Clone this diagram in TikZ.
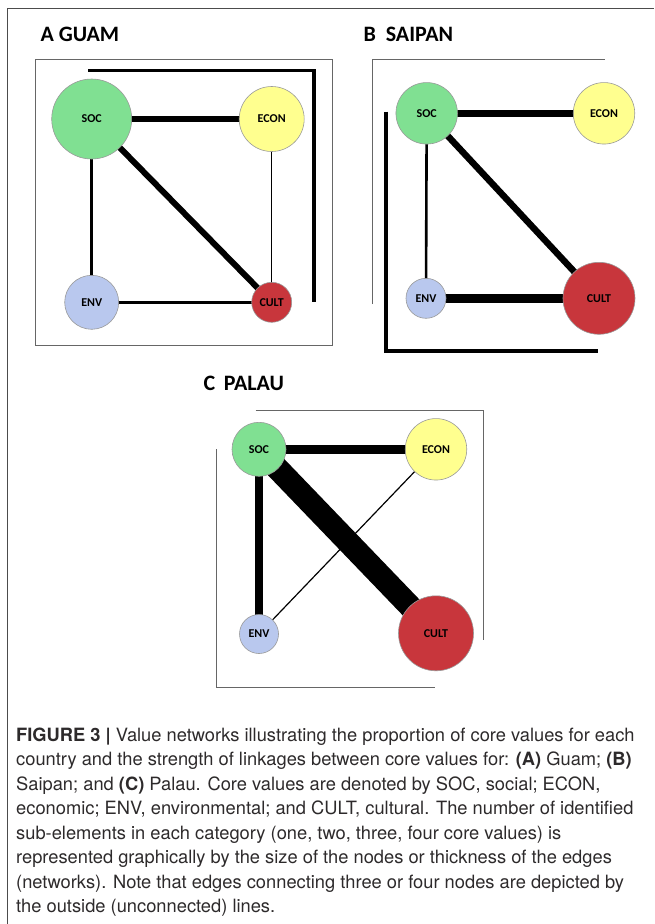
\documentclass[tikz,border=0pt]{standalone}
\usepackage{fontspec}
\setmainfont{TeX Gyre Heros}
\newfontfamily\calfont{Carlito}
\usetikzlibrary{backgrounds}
\definecolor{socgreen}{RGB}{128,224,146}
\definecolor{econyellow}{RGB}{255,255,143}
\definecolor{envblue}{RGB}{185,200,238}
\definecolor{cultred}{RGB}{200,54,60}
\definecolor{captiongray}{RGB}{45,42,43}
\begin{document}
\begin{tikzpicture}[x=1pt,y=-1pt,
    value/.style={circle,draw=black!40,line width=0.6pt,inner sep=0pt,
      font=\calfont\bfseries\fontsize{12}{12}\selectfont},
    panel/.style={anchor=west,font=\calfont\bfseries\fontsize{22}{24}\selectfont},
    frame/.style={draw=black!60,line width=1pt},
    outer/.style={draw=black,line width=#1}]
  \useasboundingbox (0,0) rectangle (654,924);
  \draw[draw=black!70,line width=1pt] (7.3,924) -- (7.3,8.3) -- (654,8.3);

  % A  Guam
  \node[panel] (titleA) at (37,34) {A GUAM};
  \draw[frame] (35,59) rectangle (332,345);
  \draw[outer=3.2] (88,70.7) -- (314,70.7) -- (314,302);
  \node[value,fill=socgreen,minimum size=80] (socA) at (91.7,119) {SOC};
  \node[value,fill=econyellow,minimum size=65] (econA) at (271.7,119) {ECON};
  \node[value,fill=envblue,minimum size=54] (envA) at (91.7,302.3) {ENV};
  \node[value,fill=cultred,minimum size=40] (cultA) at (271.7,302.3) {CULT};
  \begin{pgfonlayer}{background}
    \draw[line width=6] (socA.center) -- (econA.center);
    \draw[line width=6] (socA.center) -- (cultA.center);
    \draw[line width=2.6] (socA.center) -- (envA.center);
    \draw[line width=2.6] (envA.center) -- (cultA.center);
    \draw[line width=0.8] (econA.center) -- (cultA.center);
  \end{pgfonlayer}

  % B  Saipan
  \node[panel] (titleB) at (360,34) {B\ \ SAIPAN};
  \draw[frame] (372.7,304) -- (372.7,59.3) -- (605,59.3);
  \draw[outer=3.2] (386,111.7) -- (386,351) -- (598.3,351);
  \node[value,fill=socgreen,minimum size=61.5] (socB) at (426.7,113.3) {SOC};
  \node[value,fill=econyellow,minimum size=61.5] (econB) at (604,113.3) {ECON};
  \node[value,fill=envblue,minimum size=40] (envB) at (426,298.3) {ENV};
  \node[value,fill=cultred,minimum size=72] (cultB) at (599,298.3) {CULT};
  \begin{pgfonlayer}{background}
    \draw[line width=6.5] (socB.center) -- (econB.center);
    \draw[line width=6.5] (socB.center) -- (cultB.center);
    \draw[line width=2.6] (socB.center) -- (envB.center);
    \draw[line width=9] (envB.center) -- (cultB.center);
  \end{pgfonlayer}

  % C  Palau
  \node[panel] (titleC) at (200,383.3) {C\ \,PALAU};
  \draw[frame] (255.7,410) -- (483.3,410) -- (483.3,640);
  \draw[frame] (216,449.3) -- (216,687) -- (435,687);
  \node[value,fill=socgreen,minimum size=54] (socC) at (259,449.3) {SOC};
  \node[value,fill=econyellow,minimum size=61.5] (econC) at (436,449.3) {ECON};
  \node[value,fill=envblue,minimum size=39] (envC) at (259,634) {ENV};
  \node[value,fill=cultred,minimum size=75] (cultC) at (436,633.3) {CULT};
  \begin{pgfonlayer}{background}
    \draw[line width=8.5] (socC.center) -- (econC.center);
    \draw[line width=23] (socC.center) -- (cultC.center);
    \draw[line width=7.5] (socC.center) -- (envC.center);
    \draw[line width=1.2] (envC.center) -- (econC.center);
  \end{pgfonlayer}

  \node[anchor=north west,align=left,inner sep=0pt,text=captiongray,
    font=\fontsize{18.3}{24.5}\selectfont] (caption) at (16,727.5)
    {\textbf{FIGURE 3 |} Value networks illustrating the proportion of core values for each\\
     country and the strength of linkages between core values for: \textbf{(A)} Guam; \textbf{(B)}\\
     Saipan; and \textbf{(C)} Palau. Core values are denoted by SOC, social; ECON,\\
     economic; ENV, environmental; and CULT, cultural. The number of identified\\
     sub-elements in each category (one, two, three, four core values) is\\
     represented graphically by the size of the nodes or thickness of the edges\\
     (networks). Note that edges connecting three or four nodes are depicted by\\
     the outside (unconnected) lines.};
\end{tikzpicture}
\end{document}
